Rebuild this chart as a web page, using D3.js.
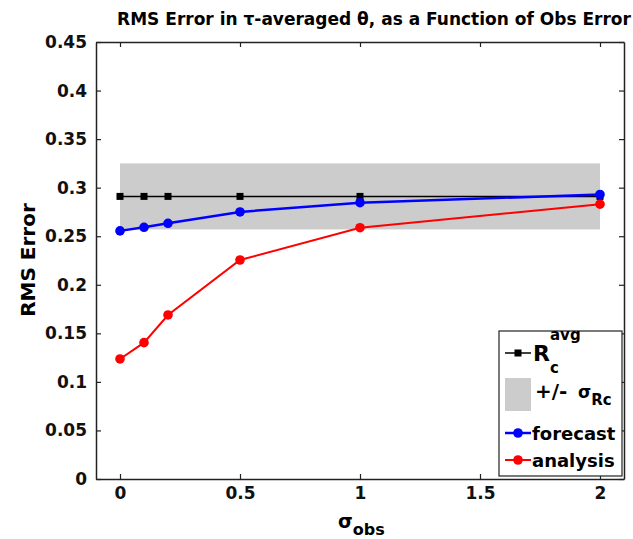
<!DOCTYPE html>
<html>
<head>
<meta charset="utf-8">
<script src="https://cdn.jsdelivr.net/npm/d3@7"></script>
<style>
body { margin: 0; background: #fff; }
text { font-family: "DejaVu Sans", Verdana, sans-serif; font-weight: bold; }
</style>
</head>
<body>
<div id="chart"></div>
<script>
// data
var sigmaObs = [0, 0.1, 0.2, 0.5, 1, 2];
var rcAvg = [0.291, 0.291, 0.291, 0.291, 0.291, 0.291];
var rcBandLow = 0.257;
var rcBandHigh = 0.325;
var forecast = [0.2555, 0.2592, 0.2633, 0.275, 0.2845, 0.293];
var analysis = [0.1236, 0.1404, 0.1689, 0.2255, 0.2588, 0.283];
var xTicks = [0, 0.5, 1, 1.5, 2];
var yTicks = [0, 0.05, 0.1, 0.15, 0.2, 0.25, 0.3, 0.35, 0.4, 0.45];

var width = 633;
var height = 539;
// plot box (don't call these top/left, window.top is taken)
var plotL = 96, plotR = 624, plotT = 42, plotB = 479;

var svg = d3.select("#chart")
    .append("svg")
    .attr("width", width)
    .attr("height", height);

var x = d3.scaleLinear().domain([-0.1, 2.1]).range([plotL, plotR]);
var y = d3.scaleLinear().domain([0, 0.45]).range([plotB, plotT]);

//grey +/- band
svg.append("rect")
    .attr("x", x(0))
    .attr("y", y(rcBandHigh))
    .attr("width", x(2) - x(0))
    .attr("height", y(rcBandLow) - y(rcBandHigh))
    .style("fill", "#cccccc");

// axes, ticks point inwards on all four sides
function tickFmt(d) { return d3.format("")(+d.toFixed(2)); }

svg.append("g")
    .attr("transform", "translate(0," + plotB + ")")
    .call(d3.axisBottom(x).tickValues(xTicks).tickSizeInner(-5).tickSizeOuter(0).tickPadding(8).tickFormat(tickFmt));
svg.append("g")
    .attr("transform", "translate(0," + plotT + ")")
    .call(d3.axisTop(x).tickValues(xTicks).tickSizeInner(-5).tickSizeOuter(0).tickFormat(""));
svg.append("g")
    .attr("transform", "translate(" + plotL + ",0)")
    .call(d3.axisLeft(y).tickValues(yTicks).tickSizeInner(-5).tickSizeOuter(0).tickPadding(9).tickFormat(tickFmt));
svg.append("g")
    .attr("transform", "translate(" + plotR + ",0)")
    .call(d3.axisRight(y).tickValues(yTicks).tickSizeInner(-5).tickSizeOuter(0).tickFormat(""));

svg.selectAll(".domain").style("stroke", "#222").style("stroke-width", 1.5);
svg.selectAll(".tick line").style("stroke", "#222").style("stroke-width", 1.2);
svg.selectAll(".tick text")
    .style("font-size", "17px")
    .style("font-family", "DejaVu Sans")
    .style("font-weight", "bold")
    .style("fill", "#111");

// series
var line = d3.line()
    .x(function (d) { return x(d[0]); })
    .y(function (d) { return y(d[1]); });

function drawSeries(vals, color, lw, marker) {
    var pts = sigmaObs.map(function (s, i) { return [s, vals[i]]; });
    svg.append("path")
        .datum(pts)
        .attr("d", line)
        .style("fill", "none")
        .style("stroke", color)
        .style("stroke-width", lw);
    if (marker == "square") {
        svg.selectAll(null).data(pts).enter().append("rect")
            .attr("x", function (d) { return x(d[0]) - 3.5; })
            .attr("y", function (d) { return y(d[1]) - 3.5; })
            .attr("width", 7).attr("height", 7)
            .style("fill", color);
    } else {
        svg.selectAll(null).data(pts).enter().append("circle")
            .attr("cx", function (d) { return x(d[0]); })
            .attr("cy", function (d) { return y(d[1]); })
            .attr("r", 4.8)
            .style("fill", color);
    }
}

drawSeries(rcAvg, "#000", 1.5, "square");
drawSeries(analysis, "#ff0000", 2, "circle");
drawSeries(forecast, "#0000ff", 2.5, "circle");

// title and axis labels
svg.append("text")
    .attr("x", 374).attr("y", 25)
    .attr("text-anchor", "middle")
    .style("font-size", "17px")
    .text("RMS Error in τ-averaged θ, as a Function of Obs Error");

svg.append("text")
    .attr("transform", "translate(35,260) rotate(-90)")
    .attr("text-anchor", "middle")
    .style("font-size", "20px")
    .text("RMS Error");

var xl = svg.append("text").attr("x", 338).attr("y", 528).style("font-size", "19px");
xl.append("tspan").text("σ");
xl.append("tspan").attr("dy", 7).style("font-size", "16px").text("obs");

// legend
var lg = svg.append("g");
lg.append("rect")
    .attr("x", 499).attr("y", 331)
    .attr("width", 123).attr("height", 145)
    .style("fill", "#fff")
    .style("stroke", "#222")
    .style("stroke-width", 1.2);

var legendItems = [
    { color: "#000", lw: 1.5, marker: "square", ly: 353 },
    { color: "#0000ff", lw: 2.5, marker: "circle", ly: 433, label: "forecast" },
    { color: "#ff0000", lw: 2, marker: "circle", ly: 460, label: "analysis" }
];
legendItems.forEach(function (it) {
    lg.append("line")
        .attr("x1", 505).attr("x2", 531)
        .attr("y1", it.ly).attr("y2", it.ly)
        .style("stroke", it.color).style("stroke-width", it.lw);
    if (it.marker == "square") {
        lg.append("rect").attr("x", 514.5).attr("y", it.ly - 3.5).attr("width", 7).attr("height", 7).style("fill", it.color);
    } else {
        lg.append("circle").attr("cx", 518).attr("cy", it.ly).attr("r", 4.8).style("fill", it.color);
    }
    if (it.label) {
        lg.append("text").attr("x", 532).attr("y", it.ly + 7).style("font-size", "18px").text(it.label);
    }
});

var rt = lg.append("text").attr("x", 533).attr("y", 361).style("font-size", "22px");
rt.append("tspan").text("R");
rt.append("tspan").attr("x", 550).attr("y", 340).style("font-size", "15px").text("avg");
rt.append("tspan").attr("x", 550).attr("y", 373).style("font-size", "15px").text("c");

lg.append("rect")
    .attr("x", 505).attr("y", 378)
    .attr("width", 26).attr("height", 33)
    .style("fill", "#cccccc");
var st = lg.append("text").attr("x", 535).attr("y", 398).style("font-size", "20px");
st.append("tspan").text("+/-");
st.append("tspan").attr("x", 578).style("font-size", "17px").text("σ");
st.append("tspan").attr("dy", 7).style("font-size", "15px").text("Rc");
</script>
</body>
</html>
